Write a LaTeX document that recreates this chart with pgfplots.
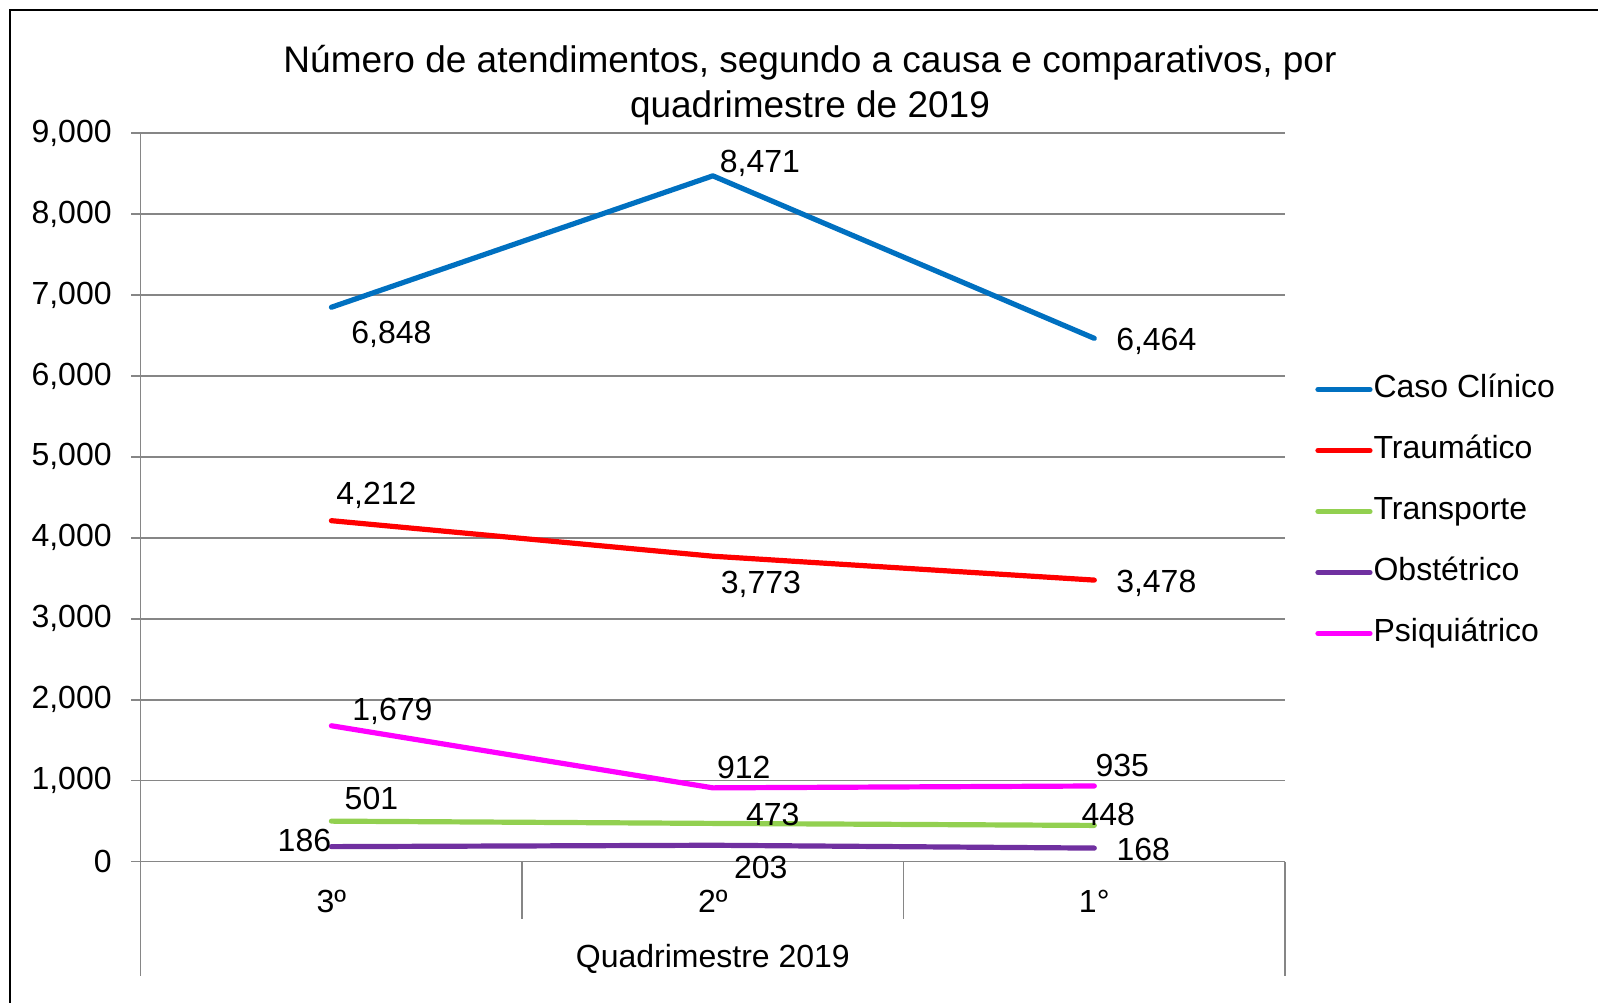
\documentclass[border=0pt]{standalone}
\usepackage{fontspec}
\setmainfont{Liberation Sans}
\usepackage{pgfplots}
\pgfplotsset{compat=1.18}
\definecolor{cblue}{HTML}{0070C0}
\definecolor{cred}{HTML}{FF0000}
\definecolor{cgreen}{HTML}{92D050}
\definecolor{cpurple}{HTML}{7030A0}
\definecolor{cmag}{HTML}{FF00FF}
\definecolor{gridgray}{HTML}{868686}
\newcommand\fs{\fontsize{16bp}{19bp}\selectfont}
\newcommand\ft{\fontsize{18.5bp}{22.5bp}\selectfont}
\tikzset{dl/.style={font=\fs, inner sep=0pt, anchor=center}}
\begin{document}
\begin{tikzpicture}
\useasboundingbox (0,0) rectangle (799bp,501.5bp);
\draw[line width=1bp] (5bp,0) -- (5bp,496.5bp) -- (799bp,496.5bp);
\node[font=\ft, align=center] at (405bp,459bp) {Número de atendimentos, segundo a causa e comparativos, por\\quadrimestre de 2019};
\begin{axis}[
  at={(70.35bp,70.65bp)}, anchor=south west,
  scale only axis, width=572.15bp, height=364.35bp,
  xmin=0, xmax=3, ymin=0, ymax=9000,
  clip=false,
  axis line style={draw=none},
  xtick={0.5,1.5,2.5}, xticklabels={3º,2º,1°},
  major x tick style={draw=none},
  xticklabel style={font=\fs, anchor=center, yshift=-15bp},
  xlabel={Quadrimestre 2019},
  xlabel style={font=\fs, at={(axis description cs:0.5,0)}, anchor=center, yshift=-48.7bp},
  ytick={0,1000,...,9000},
  ytick pos=left,
  ymajorgrids,
  grid style={gridgray, line width=0.75bp},
  tick align=outside, major tick length=4.85bp,
  major y tick style={gridgray, line width=0.75bp},
  y tick label style={font=\fs, /pgf/number format/assume math mode=true, /pgf/number format/1000 sep={,}, anchor=east, inner sep=0pt, xshift=-9.5bp},
  scaled y ticks=false,
  legend style={at={(axis description cs:1.0262,0.4805)}, anchor=west, draw=none, fill=none, inner sep=0pt, font=\fs, row sep=15.5bp, column sep=0.5bp, nodes={inner sep=0pt, text height=11.5bp, text depth=3.5bp}},
  legend cell align=left,
  legend image code/.code={\draw[#1] (0bp,0bp) -- (26bp,0bp);},
  every axis plot/.append style={line width=2.6bp, line cap=round, line join=round},
]
\draw[gridgray, line width=0.75bp] (axis cs:0,9000) -- (axis cs:0,0) -- ++(0,-57bp);
\draw[gridgray, line width=0.75bp] (axis cs:3,0) -- ++(0,-57bp);
\draw[gridgray, line width=0.75bp] (axis cs:1,0) -- ++(0,-28.6bp);
\draw[gridgray, line width=0.75bp] (axis cs:2,0) -- ++(0,-28.6bp);

\addplot[cblue] coordinates {(0.5,6848) (1.5,8471) (2.5,6464)};
\addlegendentry{Caso Clínico}
\addplot[cred] coordinates {(0.5,4212) (1.5,3773) (2.5,3478)};
\addlegendentry{Traumático}
\addplot[cgreen] coordinates {(0.5,501) (1.5,473) (2.5,448)};
\addlegendentry{Transporte}
\addplot[cpurple] coordinates {(0.5,186) (1.5,203) (2.5,168)};
\addlegendentry{Obstétrico}
\addplot[cmag] coordinates {(0.5,1679) (1.5,912) (2.5,935)};
\addlegendentry{Psiquiátrico}

\node[dl, xshift=30bp, yshift=-13.5bp] at (axis cs:0.5,6848) {6,848};
\node[dl, xshift=23.5bp, yshift=6bp] at (axis cs:1.5,8471) {8,471};
\node[dl, xshift=31bp, yshift=-1.5bp] at (axis cs:2.5,6464) {6,464};
\node[dl, xshift=22.5bp, yshift=12.5bp] at (axis cs:0.5,4212) {4,212};
\node[dl, xshift=24bp, yshift=-14bp] at (axis cs:1.5,3773) {3,773};
\node[dl, xshift=31bp, yshift=-1.5bp] at (axis cs:2.5,3478) {3,478};
\node[dl, xshift=30.5bp, yshift=7bp] at (axis cs:0.5,1679) {1,679};
\node[dl, xshift=15.5bp, yshift=10bp] at (axis cs:1.5,912) {912};
\node[dl, xshift=14bp, yshift=10.4bp] at (axis cs:2.5,935) {935};
\node[dl, xshift=20bp, yshift=11.4bp] at (axis cs:0.5,501) {501};
\node[dl, xshift=30bp, yshift=4.4bp] at (axis cs:1.5,473) {473};
\node[dl, xshift=7bp, yshift=5.4bp] at (axis cs:2.5,448) {448};
\node[dl, xshift=-13.5bp, yshift=3bp] at (axis cs:0.5,186) {186};
\node[dl, xshift=24bp, yshift=-11bp] at (axis cs:1.5,203) {203};
\node[dl, xshift=24.5bp, yshift=-0.5bp] at (axis cs:2.5,168) {168};
\end{axis}
\end{tikzpicture}
\end{document}
